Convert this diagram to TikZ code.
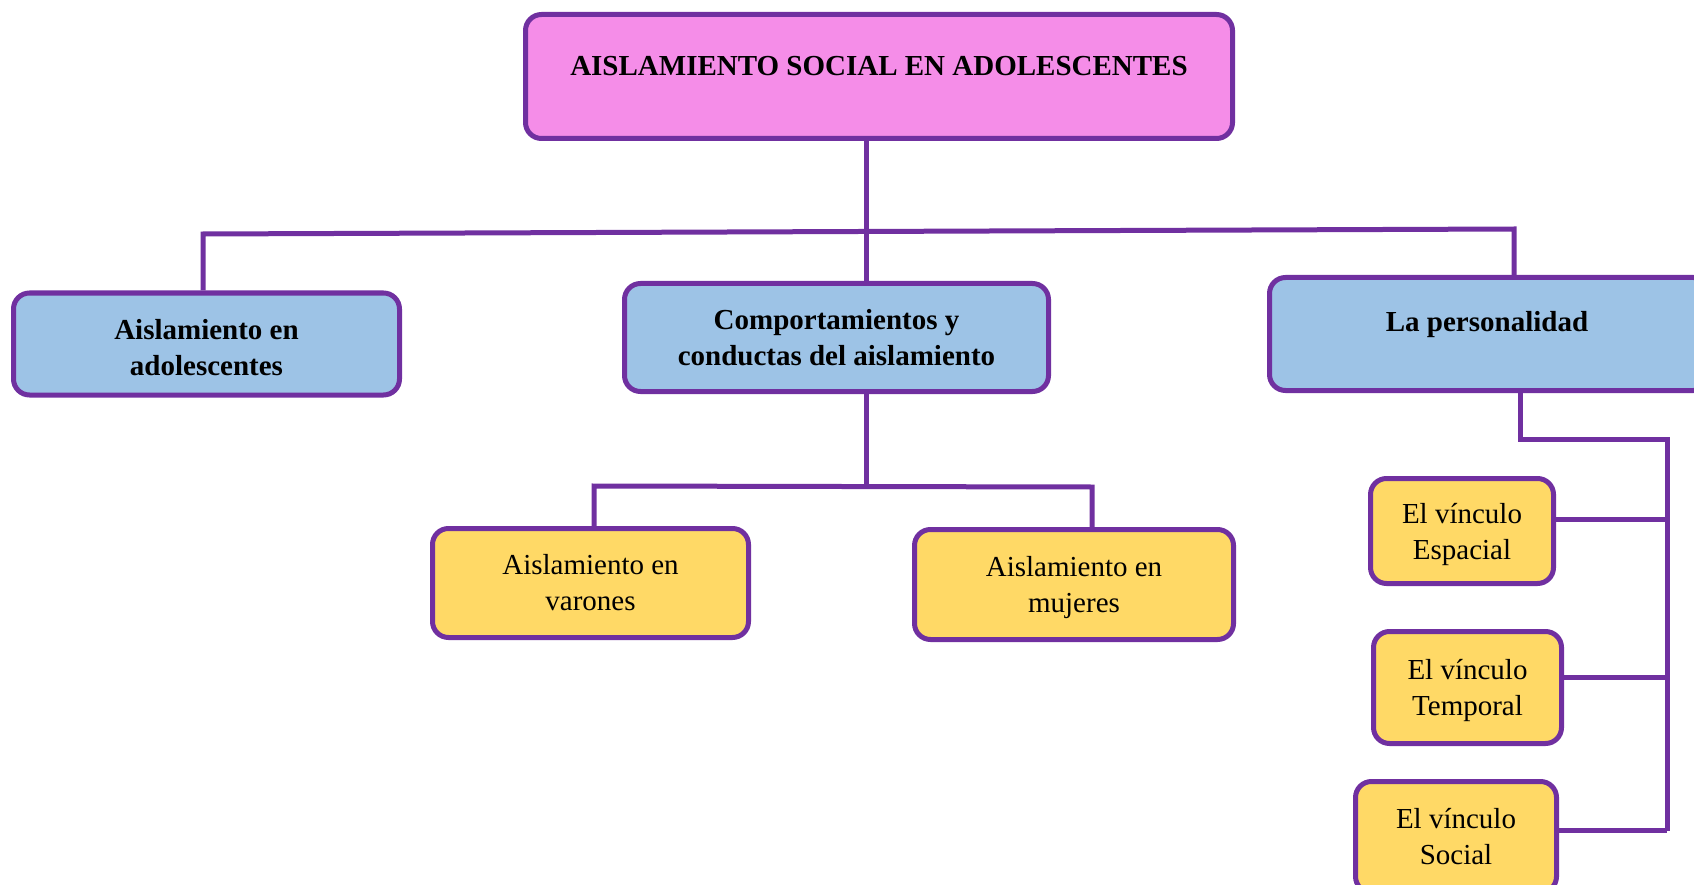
\documentclass[tikz,border=0pt]{standalone}
\usepackage{fontspec}
\setmainfont{Liberation Serif}
\definecolor{lineP}{HTML}{7030A0}
\definecolor{pinkF}{HTML}{F58DE8}
\definecolor{blueF}{HTML}{9DC3E6}
\definecolor{yellowF}{HTML}{FFD966}
\tikzset{
  basebox/.style={draw=lineP, line width=5pt, rounded corners=16pt, align=center, inner sep=0pt,
     font=\fontsize{29}{36}\selectfont},
  topbox/.style={basebox, fill=pinkF},
  bluebox/.style={basebox, fill=blueF, font=\fontsize{29}{36}\selectfont\bfseries},
  yelbox/.style={basebox, fill=yellowF},
  conn/.style={draw=lineP, line width=5pt},
  lbl/.style={inner sep=0pt, align=center, font=\fontsize{29}{36}\selectfont\bfseries}
}
\begin{document}
\begin{tikzpicture}[x=1pt,y=-1pt]
\useasboundingbox (0,0) rectangle (1694,885);
\coordinate (busL) at (203,234);
\coordinate (busM) at (866,231);
\coordinate (busR) at (1514,229);
\coordinate (sub) at (866,486);
\coordinate (subL) at (594,486);
\coordinate (subR) at (1092,487);
\coordinate (rk) at (1520,439);
\coordinate (rv) at (1667,439);
\coordinate (rvEnd) at (1667,831);

\node[topbox, minimum width=707pt, minimum height=124pt] (top) at (879,76.5) {};
\node[lbl] (topT) at (879,66) {AISLAMIENTO SOCIAL EN ADOLESCENTES};
\node[bluebox, minimum width=386pt, minimum height=102pt] (lb) at (206.5,344) {\rule{0pt}{28pt}Aislamiento en\\adolescentes};
\node[bluebox, minimum width=424pt, minimum height=108pt] (mb) at (836.5,337.5) {Comportamientos y\\conductas del aislamiento};
\node[bluebox, minimum width=440pt, minimum height=113pt] (rb) at (1489.5,334) {};
\node[lbl] (rbT) at (1487,325) {La personalidad};
\node[yelbox, minimum width=316pt, minimum height=109pt] (var) at (590.5,583) {Aislamiento en\\varones};
\node[yelbox, minimum width=319pt, minimum height=110pt] (muj) at (1074,584.5) {\rule{0pt}{27pt}Aislamiento en\\mujeres};
\node[yelbox, minimum width=183pt, minimum height=105pt] (esp) at (1462,531) {\rule{0pt}{28pt}El vínculo\\Espacial};
\node[yelbox, minimum width=188pt, minimum height=112pt] (tem) at (1467.5,687.5) {\rule{0pt}{27pt}El vínculo\\Temporal};
\node[yelbox, minimum width=201pt, minimum height=111pt] (soc) at (1456,837) {El vínculo\\Social};

\draw[conn] (top.south -| busM) -- (mb.north -| busM);
\draw[conn] (lb.north -| busL) -- (busL) -- (busR) -- (rb.north -| busR);
\draw[conn] (mb.south -| sub) -- (sub);
\draw[conn] (var.north -| subL) -- (subL) -- (subR) -- (muj.north -| subR);
\draw[conn] (rb.south -| rk) -- (rk) -- (rv) -- (rvEnd);
\draw[conn] ([yshift=12pt]esp.east) -- ([yshift=12pt]esp.east -| rv);
\draw[conn] ([yshift=10pt]tem.east) -- ([yshift=10pt]tem.east -| rv);
\draw[conn] ([yshift=7pt]soc.east) -- ([yshift=7pt]soc.east -| rv);
\end{tikzpicture}
\end{document}
